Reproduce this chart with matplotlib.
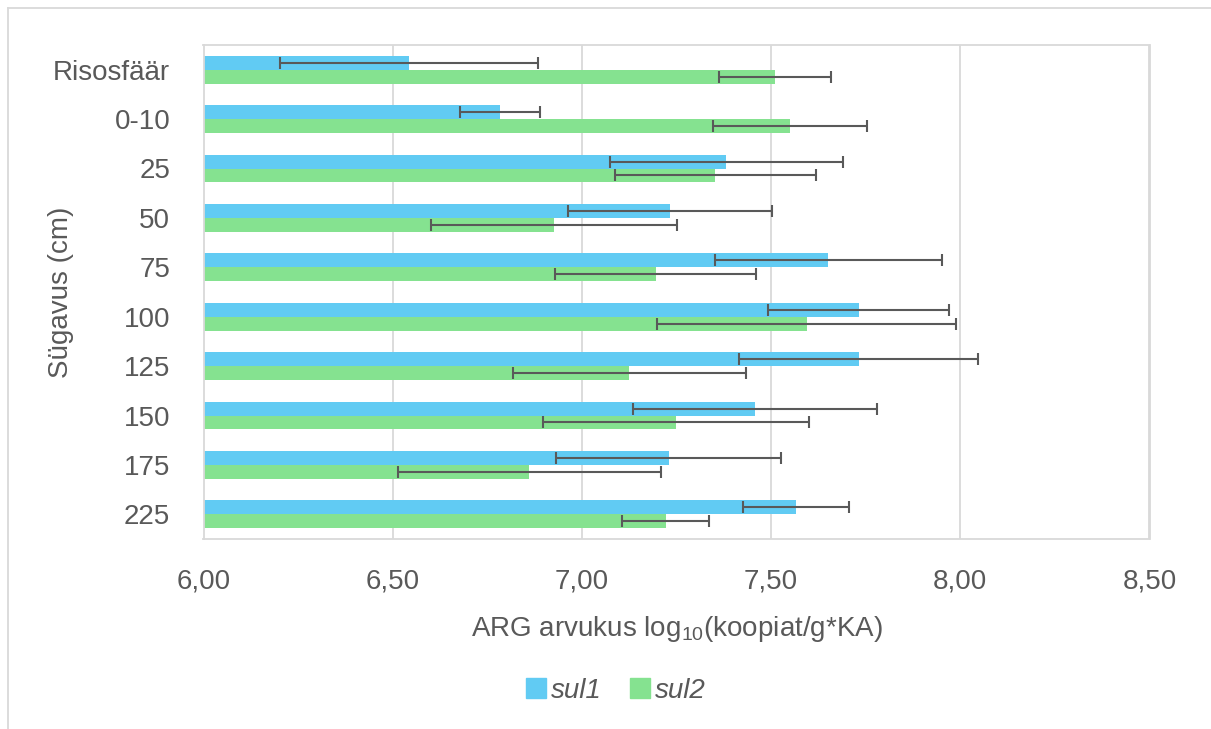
import numpy as np
import matplotlib
matplotlib.use("Agg")
import matplotlib.pyplot as plt
from matplotlib.lines import Line2D

# ── Data ─────────────────────────────
depths = ['Risosfäär', '0-10', '25', '50', '75', '100', '125', '150', '175', '225']

sul1     = [6.544, 6.784, 7.382, 7.232, 7.651, 7.732, 7.732, 7.457, 7.229, 7.566]
sul1_err = [0.341, 0.105, 0.307, 0.270, 0.300, 0.239, 0.316, 0.322, 0.297, 0.139]

sul2     = [7.510, 7.550, 7.353, 6.926, 7.195, 7.594, 7.125, 7.249, 6.861, 7.222]
sul2_err = [0.148, 0.203, 0.265, 0.326, 0.266, 0.395, 0.308, 0.351, 0.348, 0.115]

xticks = [6.0, 6.5, 7.0, 7.5, 8.0, 8.5]

# ── Style ─────────────────────────────
plt.rcParams['font.family'] = ['Liberation Sans', 'DejaVu Sans']
plt.rcParams['mathtext.fontset'] = 'custom'
plt.rcParams['mathtext.rm'] = 'Liberation Sans'

c_blue  = '#61CBF3'
c_green = '#85E290'
c_text  = '#595959'
c_grid  = '#D9D9D9'

fig = plt.figure(figsize=(12.11, 7.29), dpi=100)
ax = fig.add_axes([203.5/1211, 1-539/729, 946/1211, 494/729])

y = np.arange(len(depths))
h = 0.28
base = 6.0

ax.barh(y - h/2, np.array(sul1) - base, left=base, height=h, color=c_blue, zorder=2)
ax.barh(y + h/2, np.array(sul2) - base, left=base, height=h, color=c_green, zorder=2)

ax.errorbar(sul1, y - h/2, xerr=sul1_err, fmt='none', ecolor=c_text,
            elinewidth=1.5, capsize=4.5, capthick=1.5, zorder=3)
ax.errorbar(sul2, y + h/2, xerr=sul2_err, fmt='none', ecolor=c_text,
            elinewidth=1.5, capsize=4.5, capthick=1.5, zorder=3)

ax.set_xlim(6.0, 8.5)
ax.set_ylim(len(depths) - 0.5, -0.5)
ax.set_xticks(xticks)
ax.set_xticklabels([f"{t:.2f}".replace('.', ',') for t in xticks])
ax.set_yticks(y)
ax.set_yticklabels(depths)
ax.tick_params(length=0, labelsize=20, colors=c_text)
ax.tick_params(axis='x', pad=21)
ax.tick_params(axis='y', pad=24)

ax.grid(axis='x', color=c_grid, linewidth=1.3, zorder=0)
ax.set_axisbelow(True)
for s in ax.spines.values():
    s.set_color(c_grid)
    s.set_linewidth(1.3)

ax.set_xlabel(r"ARG arvukus log$_{\mathregular{10}}$(koopiat/g*KA)",
              fontsize=20, color=c_text, labelpad=14)
ax.set_ylabel("Sügavus (cm)", fontsize=20, color=c_text)
ax.yaxis.set_label_coords(-0.137, 0.5)

handles = [Line2D([0], [0], marker='s', linestyle='none', markersize=14,
                  markerfacecolor=c, markeredgecolor=c) for c in (c_blue, c_green)]
leg = fig.legend(handles, ['sul1', 'sul2'], loc='center', ncol=2,
                 bbox_to_anchor=(616/1211, 1-691/729), frameon=False,
                 handlelength=0.7, handletextpad=0.2, columnspacing=1.0,
                 prop={'size': 20, 'style': 'italic'})
for t in leg.get_texts():
    t.set_color(c_text)

# outer chart frame (top and left edges visible)
fig.add_artist(Line2D([8/1211, 1], [1-8/729, 1-8/729], color=c_grid, linewidth=1.3,
                      transform=fig.transFigure))
fig.add_artist(Line2D([8/1211, 8/1211], [0, 1-8/729], color=c_grid, linewidth=1.3,
                      transform=fig.transFigure))

fig.savefig('out.png', dpi=100)
